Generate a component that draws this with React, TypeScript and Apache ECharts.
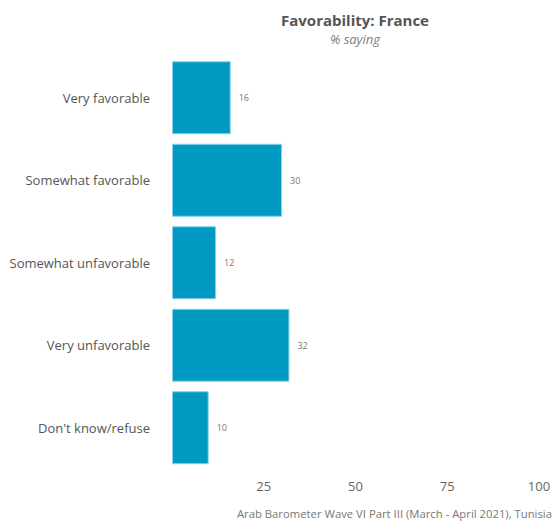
import React, { useEffect, useRef } from "react";
import * as echarts from "echarts";

const categories = [
  "Very favorable",
  "Somewhat favorable",
  "Somewhat unfavorable",
  "Very unfavorable",
  "Don't know/refuse",
];
const values = [16, 30, 12, 32, 10];
const xTicks = [0, 25, 50, 75, 100];

export default function App() {
  const ref = useRef<HTMLDivElement>(null);
  useEffect(() => {
    const chart = echarts.init(ref.current!, null, { renderer: "svg" });
    const font = "Open Sans, sans-serif";
    chart.setOption({
      animation: false,
      graphic: [
        {
          type: "text",
          x: 355,
          y: 20,
          style: {
            text: "Favorability: France",
            fontFamily: font,
            fontSize: 15,
            fontWeight: "bold",
            fill: "#555555",
            align: "center",
            verticalAlign: "middle",
          },
        },
        {
          type: "text",
          x: 355,
          y: 39,
          style: {
            text: "% saying",
            fontFamily: font,
            fontSize: 13,
            fontStyle: "italic",
            fill: "#808080",
            align: "center",
            verticalAlign: "middle",
          },
        },
        {
          type: "text",
          x: 552,
          y: 513,
          style: {
            text: "Arab Barometer Wave VI Part III (March - April 2021), Tunisia",
            fontFamily: font,
            fontSize: 11.3,
            fill: "#777777",
            align: "right",
            verticalAlign: "middle",
          },
        },
      ],
      grid: { left: 172, right: 19, top: 56.5, bottom: 52, containLabel: false },
      xAxis: {
        type: "value",
        min: xTicks[0],
        max: xTicks[xTicks.length - 1],
        interval: 25,
        axisLine: { show: false },
        axisTick: { show: false },
        splitLine: { show: false },
        axisLabel: {
          margin: 10,
          fontFamily: font,
          fontSize: 13,
          color: "#666666",
          formatter: (v: number) => (v === 0 ? "" : String(v)),
        },
      },
      yAxis: {
        type: "category",
        data: categories,
        inverse: true,
        axisLine: { show: false },
        axisTick: { show: false },
        axisLabel: { margin: 22, fontFamily: font, fontSize: 13, color: "#555555" },
      },
      series: [
        {
          type: "bar",
          data: values,
          barCategoryGap: "11.5%",
          itemStyle: { color: "#0099c1", borderColor: "#8ad3e8", borderWidth: 1 },
          label: {
            show: true,
            position: "right",
            distance: 8,
            fontFamily: font,
            fontSize: 9,
            color: "#777777",
          },
        },
      ],
    });
    return () => chart.dispose();
  }, []);
  return <div ref={ref} style={{ width: 558, height: 521, position: "absolute", left: 0, top: 0 }} />;
}
